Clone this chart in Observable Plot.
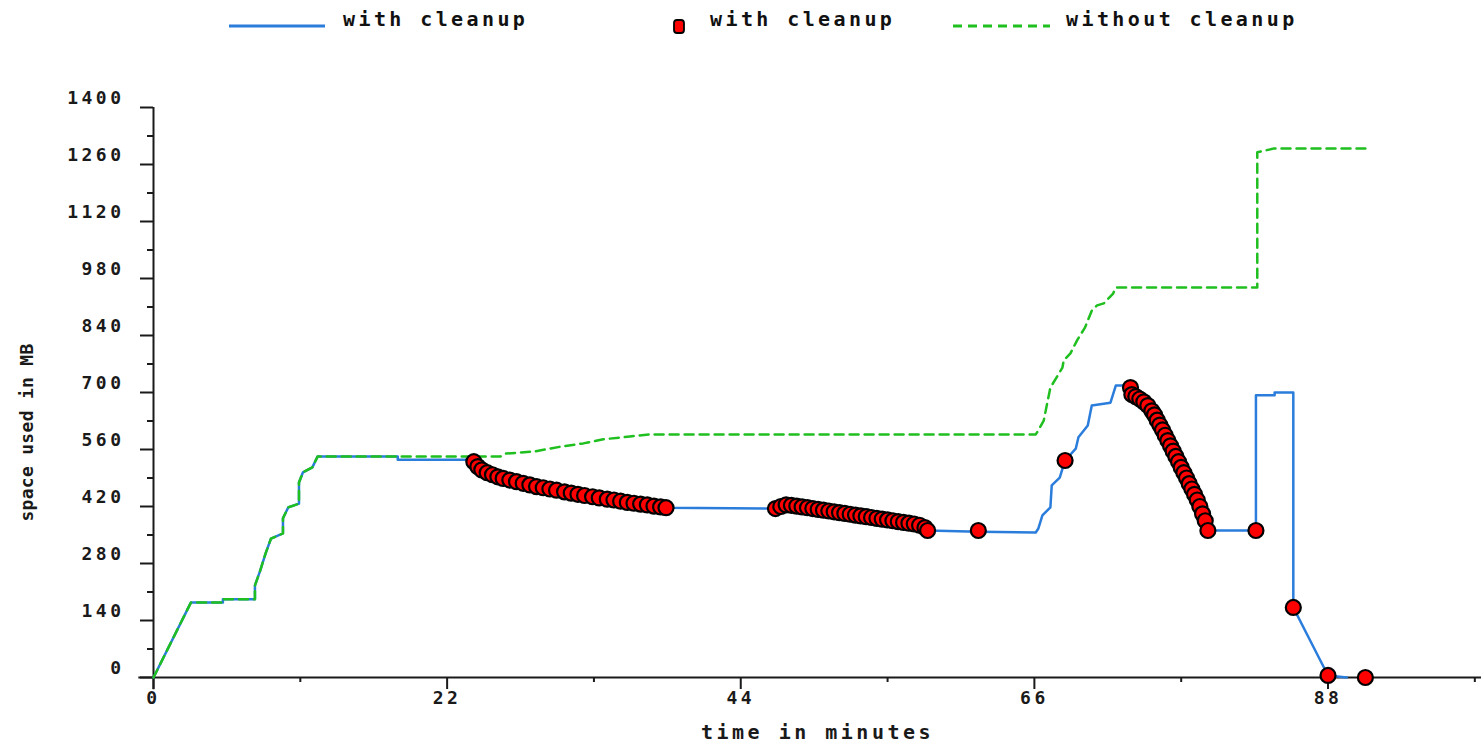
<!DOCTYPE html>
<html>
<head>
<meta charset="utf-8">
<script src="https://cdn.jsdelivr.net/npm/d3@7"></script>
<script src="https://cdn.jsdelivr.net/npm/@observablehq/plot@0.6"></script>
<style>
  html, body { margin: 0; padding: 0; background: #fff; }
  #wrap { position: relative; width: 1482px; height: 750px; overflow: hidden; }
  #wrap svg text { letter-spacing: 3.5px; }
  .legend { position: absolute; top: 0; left: 0; width: 1482px; height: 50px;
            font-family: "DejaVu Sans Mono", monospace; font-weight: bold; font-size: 20px;
            letter-spacing: 3.4px; color: #111; }
  .legend .item { position: absolute; top: 7px; white-space: nowrap; }
</style>
</head>
<body>
<div id="wrap"></div>
<script>
// ---- data (minutes, MB) ----
const startPath = [[0,0],[2.8,184],[5.2,184],[5.2,192],[7.6,192],[7.6,226],[8.0,263],[8.4,305],[8.8,341],
  [9.7,354],[9.7,391],[10.1,418],[10.9,427],[10.9,479],[11.2,504],[11.9,516],[12.3,543],[18.3,543]];

const blueGap = [[18.3,535],[24.0,535]];

const cleanup1X = [24.0,24.3,24.6,25.0,25.4,25.8,26.2,26.7,27.2,27.7,28.2,28.7,29.2,29.7,30.2,30.8,31.3,31.8,32.3,32.9,33.4,34.0,34.5,35.0,35.5,36.0,36.5,37.0,37.5,38.0,38.4];
const cleanup1Y = [530,518,510,503,498,493,489,485,481,477,473,469,466,463,460,456,453,450,447,444,441,438,436,433,430,428,426,424,421,419,417];

const cleanup2X = [46.6,47.0,47.4,47.8,48.2,48.6,49.0,49.4,49.8,50.2,50.6,51.0,51.4,51.8,52.2,52.6,53.0,53.4,53.8,54.2,54.6,55.0,55.4,55.8,56.2,56.6,57.0,57.4,57.8,58.0];
const cleanup2Y = [415,420,424,423,421,419,417,415,413,411,409,407,405,403,401,399,397,395,393,391,389,387,385,383,381,379,377,374,368,361];

const blueMid = [[61.8,358],[66.1,356],[66.3,366],[66.6,398],[67.2,418],[67.3,472],[67.9,491],[68.3,533],
  [69.1,562],[69.3,590],[70.0,619],[70.3,668],[71.7,675],[72.1,717],[73.2,717]];

const cleanup3X = [73.2,73.3,73.6,73.9,74.2,74.5,74.8,75.0,75.2,75.4,75.6,75.8,76.0,76.2,76.4,76.6,76.8,77.0,77.2,77.4,77.6,77.8,78.0,78.2,78.4,78.6,78.8,79.0];
const cleanup3Y = [712,695,690,684,677,668,655,645,632,620,608,595,582,569,556,543,530,516,503,490,476,463,450,436,420,402,385,361];

const blueEnd = [[82.6,361],[82.6,693],[84.0,693],[84.0,700],[85.4,700],[85.4,172],[88.0,5],[89.4,0]];

const singleMarkers = [[61.8,361],[68.3,533],[82.6,361],[85.4,172],[88.0,5],[90.8,0]];

const greenRest = [[24.0,543],[26.0,543],[26.4,550],[28.5,555],[29.7,562],[30.5,567],[32.2,575],[33.7,585],
  [35.7,592],[37.2,597],[66.1,597],[66.2,602],[66.7,631],[67.0,680],[67.2,712],[68.1,761],[68.2,779],
  [68.7,796],[69.2,828],[69.8,860],[70.3,901],[70.7,914],[71.2,919],[71.9,943],[72.1,958],[82.7,958],
  [82.7,1290],[83.9,1299],[90.8,1299]];

const xMajor = [0,22,44,66,88];
const xMinor = [11,33,55,77,99];
const yMajor = [0,140,280,420,560,700,840,980,1120,1260,1400];
const yMinor = [70,210,350,490,630,770,910,1050,1190,1330];

// ---- build tables ----
const zip = (xs, ys) => xs.map((x, i) => [x, ys[i]]);
const c1 = zip(cleanup1X, cleanup1Y), c2 = zip(cleanup2X, cleanup2Y), c3 = zip(cleanup3X, cleanup3Y);
const bluePath = [...startPath, ...blueGap, ...c1, ...c2, ...blueMid, ...c3, ...blueEnd];
const greenPath = [...startPath, ...greenRest];
const markers = [...c1, ...c2, ...c3, ...singleMarkers];

const BLUE = "#2a7ddb", GREEN = "#1fbf1f", INK = "#1a1a1a";

const chart = Plot.plot({
  width: 1482, height: 750,
  marginLeft: 153, marginRight: 1, marginTop: 107, marginBottom: 73,
  style: {fontFamily: "DejaVu Sans Mono", fontSize: "18px", fontWeight: "bold", color: INK, background: "white", overflow: "visible"},
  x: {domain: [0, 99.5]},
  y: {domain: [0, 1400]},
  marks: [
    Plot.ruleY([0], {x1: -1.1, x2: 99.5, stroke: INK, strokeWidth: 2}),
    Plot.ruleX([0], {y1: -30, y2: 1400, stroke: INK, strokeWidth: 2}),
    Plot.axisX(xMajor, {tickSize: 12, tickPadding: 2, stroke: INK, strokeWidth: 2, fontSize: 18, tickFormat: d => String(d)}),
    Plot.axisX(xMinor, {tickSize: 5, stroke: INK, strokeWidth: 2, tickFormat: () => ""}),
    Plot.axisY(yMajor, {tickSize: 13, stroke: INK, strokeWidth: 2, tickFormat: () => ""}),
    Plot.axisY(yMajor, {tickSize: 0, tickPadding: 29, dy: -9, fontSize: 18, tickFormat: d => String(d)}),
    Plot.axisY(yMinor, {tickSize: 6, stroke: INK, strokeWidth: 2, tickFormat: () => ""}),
    Plot.line(bluePath, {x: d => d[0], y: d => d[1], stroke: BLUE, strokeWidth: 2.5}),
    Plot.line(greenPath, {x: d => d[0], y: d => d[1], stroke: GREEN, strokeWidth: 2.5, strokeDasharray: "9,6"}),
    Plot.dot(markers, {x: d => d[0], y: d => d[1], r: 7.5, fill: "#ff0000", stroke: "#000", strokeWidth: 2.2}),
    Plot.text(["time in minutes"], {frameAnchor: "bottom", dy: 61, fontSize: 20, fill: INK}),
    Plot.text(["space used in MB"], {frameAnchor: "left", textAnchor: "middle", rotate: -90, dx: -126, dy: 40, fontSize: 18, fill: INK})
  ]
});

const wrap = document.getElementById("wrap");
wrap.appendChild(chart);
d3.select(chart).selectAll("text")
  .filter(function() { return this.textContent === "space used in MB"; })
  .style("letter-spacing", "0.3px");

const legend = document.createElement("div");
legend.className = "legend";
legend.innerHTML = `
  <svg width="1482" height="50" style="position:absolute;left:0;top:0">
    <line x1="229" x2="325" y1="26" y2="26" stroke="${BLUE}" stroke-width="3"/>
    <rect x="674" y="20" width="10" height="13" rx="3" fill="#ff0000" stroke="#000" stroke-width="1.8"/>
    <line x1="953" x2="1050" y1="26" y2="26" stroke="${GREEN}" stroke-width="3" stroke-dasharray="9,6"/>
  </svg>
  <span class="item" style="left:343px">with cleanup</span>
  <span class="item" style="left:710px">with cleanup</span>
  <span class="item" style="left:1066px">without cleanup</span>`;
wrap.appendChild(legend);
</script>
</body>
</html>
